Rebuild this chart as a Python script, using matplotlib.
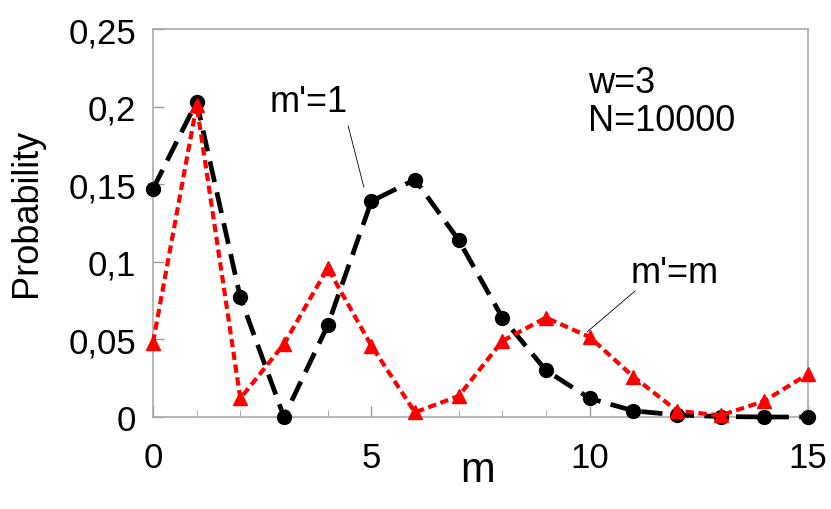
import numpy as np
import matplotlib.pyplot as plt

plt.rcParams['font.family'] = ['Liberation Sans', 'DejaVu Sans']

m = np.arange(16)
p_one = [0.147, 0.203, 0.077, 0.0, 0.059, 0.139, 0.153, 0.114, 0.064, 0.030,
         0.012, 0.004, 0.0013, 0.0003, 0.0, 0.0]
p_same = [0.048, 0.201, 0.012, 0.047, 0.096, 0.046, 0.003, 0.0135, 0.049, 0.064,
          0.0515, 0.026, 0.004, 0.001, 0.0103, 0.0277]
yticks = [0, 0.05, 0.1, 0.15, 0.2, 0.25]
ytick_labels = ['0', '0,05', '0,1', '0,15', '0,2', '0,25']
xticks = [0, 5, 10, 15]

fig = plt.figure(figsize=(8.31, 5.10), dpi=100)
ax = fig.add_axes([153/831, 1 - 418/510, 655/831, 388/510])

# black dashed (m'=1) and red dotted (m'=m)
ax.plot(m, p_one, color='black', lw=3.4, dashes=(4.5, 2.2), marker='o', ms=10,
        clip_on=False, zorder=3)
ax.plot(m, p_same, color='red', lw=3, dashes=(2, 1.1), marker='^', ms=10,
        clip_on=False, zorder=4)

ax.set_xlim(0, 15)
ax.set_ylim(0, 0.25)
ax.set_xticks(xticks)
ax.set_xticks(m, minor=True)
ax.set_yticks(yticks)
ax.set_yticklabels(ytick_labels)
ax.tick_params(direction='in', colors='#999999', labelcolor='black', labelsize=25,
               length=8, width=1)
ax.tick_params(which='minor', direction='in', colors='#999999', length=5)
ax.tick_params(axis='x', pad=17)
ax.tick_params(axis='y', pad=12)
for s in ax.spines.values():
    s.set_color('#aaaaaa')
    s.set_linewidth(1.2)

ax.set_xlabel('m', fontsize=30)
ax.xaxis.label.set_va('baseline')
ax.xaxis.set_label_coords(0.495, -0.165)
ax.set_ylabel('Probability', fontsize=26)
ax.yaxis.set_label_coords(-0.166, 0.528)

# labels with thin leader lines
ax.text(3.57, 0.197, "m'=1", fontsize=26, ha='center', va='baseline')
ax.annotate('', xy=(4.83, 0.148), xytext=(4.47, 0.1875),
            arrowprops=dict(arrowstyle='-', color='black', lw=0.6, shrinkA=0, shrinkB=0))
ax.text(11.95, 0.087, "m'=m", fontsize=26, ha='center', va='baseline')
ax.annotate('', xy=(9.94, 0.0548), xytext=(11.04, 0.0812),
            arrowprops=dict(arrowstyle='-', color='black', lw=0.6, shrinkA=0, shrinkB=0))
ax.text(9.96, 0.2094, 'w=3', fontsize=26, ha='left', va='baseline')
ax.text(9.96, 0.185, 'N=10000', fontsize=26, ha='left', va='baseline')

fig.savefig('out.png', dpi=100)
